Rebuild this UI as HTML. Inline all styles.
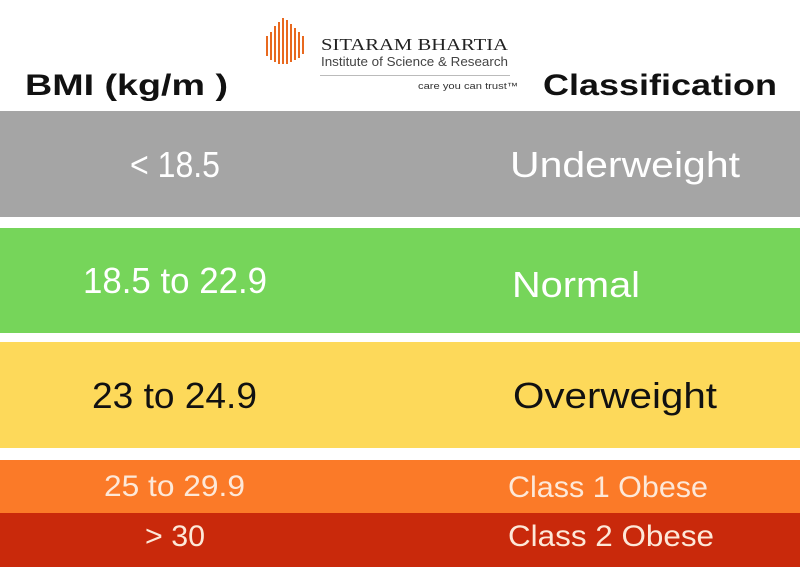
<!DOCTYPE html>
<html><head><meta charset="utf-8"><style>html,body{margin:0;padding:0;background:#fff}svg{display:block}</style></head>
<body>
<svg width="800" height="567" viewBox="0 0 800 567" xmlns="http://www.w3.org/2000/svg" font-family="Liberation Sans, sans-serif">
<rect width="800" height="567" fill="#fff"/>
<rect x="0" y="111" width="800" height="106" fill="#a5a5a5"/>
<rect x="0" y="228" width="800" height="105" fill="#76d55a"/>
<rect x="0" y="342" width="800" height="106" fill="#fdd95a"/>
<rect x="0" y="460" width="800" height="53" fill="#fb7a28"/>
<rect x="0" y="513" width="800" height="54" fill="#c9290b"/>
<g fill="#e8691f">
<rect x="266" y="36" width="2" height="20"/><rect x="270" y="32" width="2" height="28"/><rect x="274" y="26" width="2" height="36"/><rect x="278" y="22" width="2" height="42"/><rect x="282" y="18" width="2" height="46"/><rect x="286" y="20" width="2" height="44"/><rect x="290" y="24" width="2" height="38"/><rect x="294" y="28" width="2" height="32"/><rect x="298" y="32" width="2" height="26"/><rect x="302" y="36" width="2" height="18"/>
</g>
<text x="321" y="50" font-family="Liberation Serif, serif" font-size="17" fill="#222" textLength="187" lengthAdjust="spacingAndGlyphs">SITARAM BHARTIA</text>
<text x="321" y="66" font-size="13" fill="#444" textLength="187" lengthAdjust="spacingAndGlyphs">Institute of Science &amp; Research</text>
<rect x="320" y="75" width="190" height="1" fill="#bbb"/>
<text x="418" y="89" font-size="9" fill="#333" textLength="100" lengthAdjust="spacingAndGlyphs">care you can trust™</text>
<g font-weight="bold" font-size="30" fill="#111">
<text x="25" y="95" textLength="203" lengthAdjust="spacingAndGlyphs">BMI (kg/m )</text>
<text x="543" y="95" textLength="234" lengthAdjust="spacingAndGlyphs">Classification</text>
</g>
<g font-size="36" fill="#fff">
<text x="130" y="177" textLength="90" lengthAdjust="spacingAndGlyphs">&lt; 18.5</text>
<text x="510" y="177" textLength="230" lengthAdjust="spacingAndGlyphs">Underweight</text>
<text x="83" y="293" textLength="184" lengthAdjust="spacingAndGlyphs">18.5 to 22.9</text>
<text x="512" y="297" textLength="128" lengthAdjust="spacingAndGlyphs">Normal</text>
</g>
<g font-size="36" fill="#111">
<text x="92" y="408" textLength="165" lengthAdjust="spacingAndGlyphs">23 to 24.9</text>
<text x="513" y="408" textLength="204" lengthAdjust="spacingAndGlyphs">Overweight</text>
</g>
<g font-size="30" fill="#fde8d8">
<text x="104" y="496" textLength="141" lengthAdjust="spacingAndGlyphs">25 to 29.9</text>
<text x="508" y="497" textLength="200" lengthAdjust="spacingAndGlyphs">Class 1 Obese</text>
<text x="145" y="546" textLength="60" lengthAdjust="spacingAndGlyphs">&gt; 30</text>
<text x="508" y="546" textLength="206" lengthAdjust="spacingAndGlyphs">Class 2 Obese</text>
</g>
</svg>
</body></html>
